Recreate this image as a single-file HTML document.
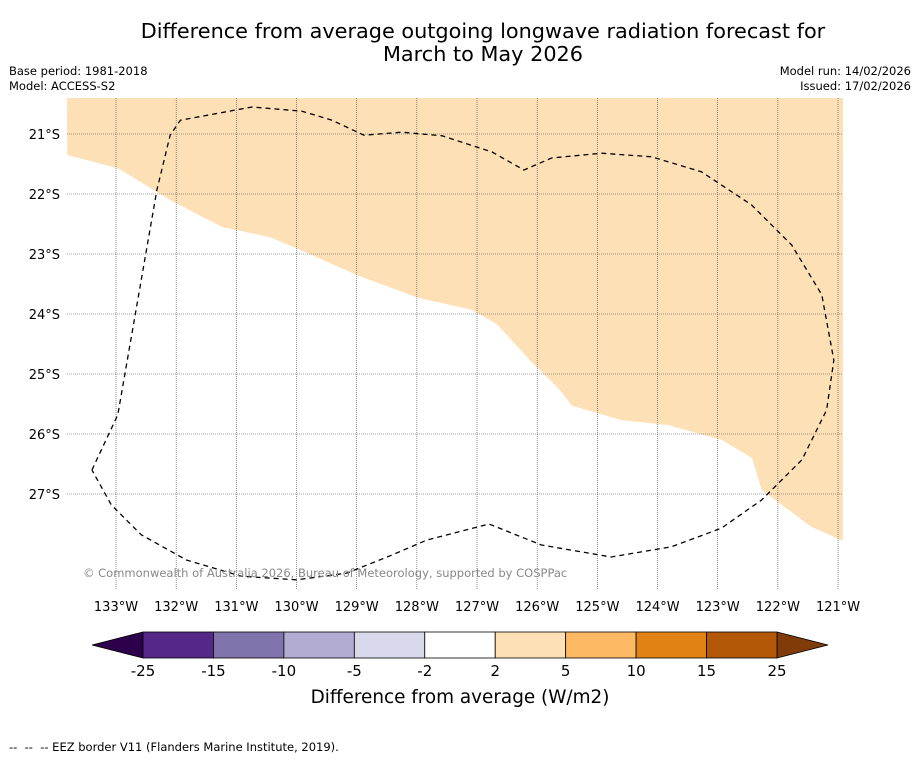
<!DOCTYPE html>
<html><head><meta charset="utf-8"><style>
body{margin:0;background:#fff;font-family:"DejaVu Sans","Liberation Sans",sans-serif}
</style></head><body>
<svg id="s" width="919" height="758" viewBox="0 0 919 758" xmlns="http://www.w3.org/2000/svg">
<rect width="919" height="758" fill="#fff"/>
<text x="483" y="38" font-size="20.8" text-anchor="middle">Difference from average outgoing longwave radiation forecast for</text>
<text x="483" y="61" font-size="20.8" text-anchor="middle">March to May 2026</text>
<text x="9" y="75" font-size="11.5">Base period: 1981-2018</text>
<text x="9" y="90" font-size="11.5">Model: ACCESS-S2</text>
<text x="911" y="75" font-size="11.5" text-anchor="end">Model run: 14/02/2026</text>
<text x="911" y="90" font-size="11.5" text-anchor="end">Issued: 17/02/2026</text>
<g id="map"></g>
<g id="cbar"></g>
<text x="460" y="703" font-size="18.4" text-anchor="middle">Difference from average (W/m2)</text>
<text x="9" y="751" font-size="11.5" xml:space="preserve">--  --  -- EEZ border V11 (Flanders Marine Institute, 2019).</text>
</svg>
<script>
const lonTicks=[-133,-132,-131,-130,-129,-128,-127,-126,-125,-124,-123,-122,-121];
const latTicks=[-21,-22,-23,-24,-25,-26,-27];
const anomalyLon=[-133.81,-132.97,-132.1,-131.24,-130.44,-129.94,-129.0,-127.98,-127.09,-126.67,-126.12,-125.62,-125.42,-124.59,-123.83,-122.93,-122.43,-122.27,-121.44,-120.92];
const anomalyLat=[-21.35,-21.57,-22.1,-22.55,-22.72,-22.93,-23.35,-23.73,-23.93,-24.17,-24.77,-25.27,-25.53,-25.77,-25.85,-26.1,-26.4,-26.93,-27.55,-27.78];
const eezLon=[-133.4,-132.97,-132.32,-132.1,-131.93,-130.74,-129.91,-129.41,-128.88,-128.25,-127.58,-126.75,-126.22,-125.76,-124.93,-124.1,-123.27,-122.44,-121.77,-121.27,-121.07,-121.19,-121.6,-122.27,-122.94,-123.77,-124.77,-125.93,-126.8,-127.84,-128.42,-129.17,-130.0,-130.92,-131.83,-132.58,-133.08,-133.4];
const eezLat=[-26.6,-25.68,-21.93,-21.02,-20.77,-20.55,-20.62,-20.77,-21.02,-20.97,-21.03,-21.3,-21.6,-21.4,-21.32,-21.38,-21.63,-22.18,-22.85,-23.68,-24.77,-25.6,-26.43,-27.1,-27.57,-27.88,-28.05,-27.85,-27.5,-27.77,-28.02,-28.32,-28.43,-28.37,-28.1,-27.68,-27.18,-26.6];
const cbLevels=[-25,-15,-10,-5,-2,2,5,10,15,25];
const cbColors=["#542788","#8073ac","#b2abd2","#d8daeb","#ffffff","#fee0b6","#fdb863","#e08214","#b35806"];
const ns="http://www.w3.org/2000/svg";
const X=lon=>116+(lon+133)*60.17, Y=lat=>134+(-21-lat)*60;
const map=document.getElementById('map'), cb=document.getElementById('cbar');
function mk(tag,attrs,parent){const e=document.createElementNS(ns,tag);for(const k in attrs)e.setAttribute(k,attrs[k]);parent.appendChild(e);return e;}
let pts=anomalyLon.map((l,i)=>X(l)+','+Y(anomalyLat[i]));
pts.push('843,98','67,98');
const poly=mk('polygon',{points:pts.join(' '),fill:'#fee0b6'},map);


lonTicks.forEach(l=>{const x=X(l);
 const g=mk('line',{x1:x,x2:x,y1:98,y2:590,stroke:'#444','stroke-width':0.6,'stroke-dasharray':'1,1'},map);
 
 
 const t=mk('text',{x:x,y:611,'font-size':13,'text-anchor':'middle'},map);t.textContent=Math.abs(l)+'°W';
 
 });
latTicks.forEach(l=>{const y=Y(l);
 const g=mk('line',{x1:67,x2:843,y1:y,y2:y,stroke:'#444','stroke-width':0.6,'stroke-dasharray':'1,1'},map);
 
 
 const t=mk('text',{x:60,y:y+5,'font-size':13,'text-anchor':'end'},map);t.textContent=Math.abs(l)+'°S';
 
 });
const eez=mk('polyline',{points:eezLon.map((l,i)=>X(l)+','+Y(eezLat[i])).join(' '),fill:'none',stroke:'#000','stroke-width':1.3,'stroke-dasharray':'5,4','stroke-linejoin':'round'},map);


const cr=mk('text',{x:83,y:577,'font-size':11.5,fill:'#888'},map);cr.textContent='© Commonwealth of Australia 2026, Bureau of Meteorology, supported by COSPPac';


const cx0=143,cx1=777,cy=632,ch=26,n=cbLevels.length-1,w=(cx1-cx0)/n;
const lt=mk('polygon',{points:`92,645 ${cx0},${cy} ${cx0},${cy+ch}`,fill:'#2d004b',stroke:'#000','stroke-width':0.8},cb);


const rt=mk('polygon',{points:`828,645 ${cx1},${cy} ${cx1},${cy+ch}`,fill:'#7f3b08',stroke:'#000','stroke-width':0.8},cb);


for(let i=0;i<n;i++){const r=mk('rect',{x:cx0+i*w,y:cy,width:w,height:ch,fill:cbColors[i],stroke:'#000','stroke-width':0.8},cb);
 
 }
cbLevels.forEach((v,i)=>{const t=mk('text',{x:cx0+i*w,y:676,'font-size':15,'text-anchor':'middle'},cb);t.textContent=v;
 
 });
</script>
</body></html>
